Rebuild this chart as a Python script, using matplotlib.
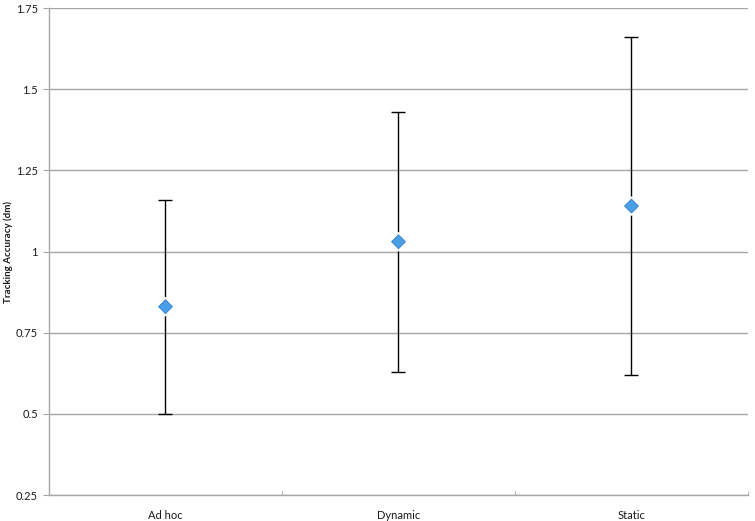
#!/usr/bin/env python3

'''Tracking accuracy per tracking mode, mean with min/max range.'''

import matplotlib
matplotlib.use('Agg')
import matplotlib.pyplot as plt
import matplotlib.patheffects as pe

plt.rcParams['font.family'] = ['Lato', 'DejaVu Sans']

modes = ['Ad hoc', 'Dynamic', 'Static']
mean_acc = [0.83, 1.03, 1.14]
low_acc = [0.50, 0.63, 0.62]
high_acc = [1.16, 1.43, 1.66]
yticks = [0.25, 0.5, 0.75, 1.0, 1.25, 1.5, 1.75]
ytick_labels = ['0.25', '0.5', '0.75', '1', '1.25', '1.5', '1.75']

GRID = '#a6a6a6'
TEXT = '#1a1a1a'

fig = plt.figure(figsize=(7.55, 5.21), dpi=100)
ax = fig.add_axes([0.0649, 0.0499, 0.9258, 0.9347])

xs = list(range(1, len(modes) + 1))
err = [[m - lo for m, lo in zip(mean_acc, low_acc)],
       [hi - m for m, hi in zip(mean_acc, high_acc)]]

ax.errorbar(xs, mean_acc, yerr=err, fmt='none', ecolor='black',
            elinewidth=1.0, capsize=5, capthick=1.0, zorder=3)
ax.scatter(xs, mean_acc, marker='D', s=50, color='#4a9ee6',
           edgecolors='#2f7fcf', linewidths=0.6, zorder=4,
           path_effects=[pe.withStroke(linewidth=4, foreground='white')])

ax.set_xlim(0.5, 3.5)
ax.set_ylim(0.25, 1.75)
ax.set_yticks(yticks)
ax.set_yticklabels(ytick_labels)
ax.yaxis.grid(True, color=GRID, linewidth=1.0)
ax.set_axisbelow(True)

# category labels centered, ticks between categories
ax.set_xticks(xs)
ax.set_xticklabels(modes)
ax.tick_params(axis='x', length=0, pad=11, labelsize=8, labelcolor=TEXT)
ax.set_xticks([1.5, 2.5, 3.5], minor=True)
ax.tick_params(axis='x', which='minor', length=3, direction='in', color=GRID)
ax.tick_params(axis='y', length=4, color=GRID, labelsize=8, labelcolor=TEXT, pad=4)

for side in ['top', 'right']:
    ax.spines[side].set_visible(False)
for side in ['left', 'bottom']:
    ax.spines[side].set_color(GRID)
    ax.spines[side].set_linewidth(1.0)

ax.set_ylabel('Tracking Accuracy (dm)', fontsize=7, fontweight='bold',
              color=TEXT, va='center')
ax.yaxis.set_label_coords(-0.059, 0.5)

fig.savefig('out.png', dpi=100)
